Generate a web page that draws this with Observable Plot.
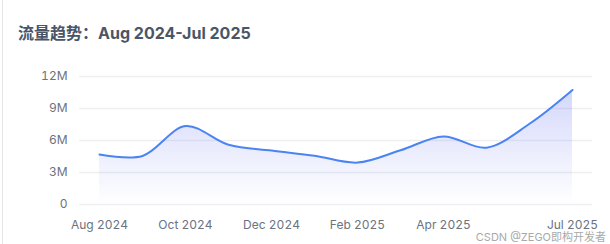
<!DOCTYPE html>
<html>
<head>
<meta charset="utf-8">
<script src="https://cdn.jsdelivr.net/npm/d3@7"></script>
<script src="https://cdn.jsdelivr.net/npm/@observablehq/plot@0.6"></script>
<style>
  html, body { margin: 0; padding: 0; background: #fff; }
  #wrap { position: relative; width: 610px; height: 244px; overflow: hidden;
    font-family: Inter, "Noto Sans CJK SC", "Noto Sans", sans-serif; }
  #edge { position: absolute; left: 2px; top: 0; width: 1px; height: 244px; background: #e6e6e6; }
  #title { height: 55px; box-sizing: border-box; padding: 24px 0 0 18px; line-height: 18px;
    font-size: 16px; font-weight: 700; color: #4a5568; white-space: nowrap; }
  #chart svg { display: block; }
  #mark { position: absolute; right: 4px; bottom: 0px; font-size: 11px; line-height: 14px; color: #a9a9a9;
    text-shadow: 0 0 2px #fff, 0 0 2px #fff; white-space: nowrap; }
</style>
</head>
<body>
<div id="wrap">
  <div id="edge"></div>
  <div id="title">流量趋势：Aug 2024-Jul 2025</div>
  <div id="chart"></div>
  <div id="mark">CSDN @ZEGO即构开发者</div>
</div>
<script>
const months = ["Aug 2024","Sep 2024","Oct 2024","Nov 2024","Dec 2024","Jan 2025","Feb 2025","Mar 2025","Apr 2025","May 2025","Jun 2025","Jul 2025"];
const traffic = [4.68, 4.55, 7.35, 5.6, 5.06, 4.58, 3.93, 5.08, 6.38, 5.33, 7.57, 10.74];
const xTickIndex = [0, 2, 4, 6, 8, 11];
const yTicks = [0, 3, 6, 9, 12];

const data = months.map((m, i) => ({i, m, v: traffic[i]}));

const chart = Plot.plot({
  width: 610,
  height: 189,
  marginTop: 21,
  marginBottom: 40,
  marginLeft: 79,
  marginRight: 18,
  style: {fontFamily: 'Inter, "Noto Sans CJK SC", sans-serif', fontSize: "12px", color: "#6b7280", background: "transparent"},
  x: {type: "linear", domain: [0, months.length - 1], insetLeft: 20, insetRight: 20},
  y: {domain: [0, 12]},
  marks: [
    Plot.ruleY(yTicks, {stroke: "#eeeef2", strokeWidth: 1.5, strokeOpacity: 1}),
    Plot.areaY(data, {x: "i", y: "v", curve: "catmull-rom", fill: "url(#areaGrad)"}),
    Plot.lineY(data, {x: "i", y: "v", curve: "catmull-rom", stroke: "#4a84f2", strokeWidth: 2}),
    Plot.axisY(yTicks, {tickSize: 0, tickPadding: 12, label: null, tickFormat: d => d === 0 ? "0" : d + "M", fill: "#6b7280"}),
    Plot.axisX(xTickIndex, {tickSize: 0, tickPadding: 16, label: null, tickFormat: d => months[d], fill: "#6b7280"})
  ]
});

const svg = d3.select(chart);
const defs = svg.insert("defs", ":first-child");
const g = defs.append("linearGradient").attr("id", "areaGrad").attr("x1", 0).attr("y1", 0).attr("x2", 0).attr("y2", 1);
g.append("stop").attr("offset", "0%").attr("stop-color", "rgb(110,125,240)").attr("stop-opacity", 0.3);
g.append("stop").attr("offset", "100%").attr("stop-color", "rgb(110,125,240)").attr("stop-opacity", 0);
document.getElementById("chart").appendChild(chart);
</script>
</body>
</html>
